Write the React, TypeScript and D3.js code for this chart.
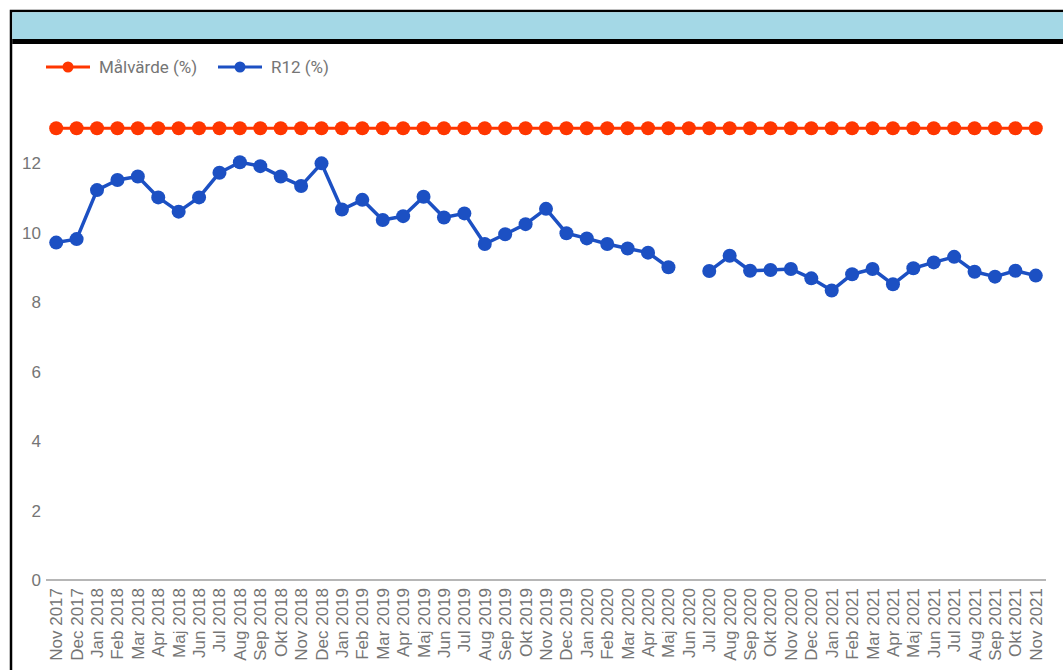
import React from 'react';
import * as d3 from 'd3';

// months shown on the x axis
const months = [
  'Nov 2017', 'Dec 2017', 'Jan 2018', 'Feb 2018', 'Mar 2018', 'Apr 2018', 'Maj 2018', 'Jun 2018',
  'Jul 2018', 'Aug 2018', 'Sep 2018', 'Okt 2018', 'Nov 2018', 'Dec 2018', 'Jan 2019', 'Feb 2019',
  'Mar 2019', 'Apr 2019', 'Maj 2019', 'Jun 2019', 'Jul 2019', 'Aug 2019', 'Sep 2019', 'Okt 2019',
  'Nov 2019', 'Dec 2019', 'Jan 2020', 'Feb 2020', 'Mar 2020', 'Apr 2020', 'Maj 2020', 'Jun 2020',
  'Jul 2020', 'Aug 2020', 'Sep 2020', 'Okt 2020', 'Nov 2020', 'Dec 2020', 'Jan 2021', 'Feb 2021',
  'Mar 2021', 'Apr 2021', 'Maj 2021', 'Jun 2021', 'Jul 2021', 'Aug 2021', 'Sep 2021', 'Okt 2021',
  'Nov 2021',
];

const malvarde = months.map(() => 13);

const r12: (number | null)[] = [
  9.71, 9.81, 11.22, 11.51, 11.61, 11.01, 10.6, 11.01,
  11.72, 12.02, 11.91, 11.61, 11.34, 11.99, 10.66, 10.94,
  10.36, 10.47, 11.03, 10.43, 10.55, 9.67, 9.95, 10.24,
  10.68, 9.98, 9.83, 9.67, 9.54, 9.42, 9.0, null,
  8.89, 9.33, 8.9, 8.92, 8.95, 8.68, 8.33, 8.8,
  8.95, 8.51, 8.97, 9.14, 9.3, 8.87, 8.73, 8.9,
  8.76,
];

const yTicks = [0, 2, 4, 6, 8, 10, 12];

const RED = '#ff3600';
const BLUE = '#1c50c3';
const axisFont = '"Liberation Sans", Arial, sans-serif';
const legendFont = 'Roboto, "Noto Sans", sans-serif';

const W = 1063, H = 670;

export default function App() {
  const x = d3.scaleBand<string>().domain(months).range([46, 1046]);
  const y = d3.scaleLinear().domain([0, 14]).range([580, 93.5]);
  const cx = (i: number) => (x(months[i]) ?? 0) + x.bandwidth() / 2;

  const line = d3.line<number | null>()
    .defined(d => d != null)
    .x((_, i) => cx(i))
    .y(d => y(d as number));

  const series = [
    { name: 'Målvärde (%)', color: RED, values: malvarde as (number | null)[], width: 3, lx: 46 },
    { name: 'R12 (%)', color: BLUE, values: r12, width: 3.5, lx: 218 },
  ];

  return (
    <div style={{ position: 'absolute', left: 0, top: 0 }}>
      <svg width={W} height={H} style={{ display: 'block', background: '#fff' }}>
        {/* frame + header */}
        <rect x={11} y={11} width={W + 10} height={H} fill="none" stroke="#000" strokeWidth={2.5} />
        <rect x={12.25} y={12.25} width={W} height={27} fill="#a4d8e6" />
        <rect x={12.25} y={39} width={W} height={5} fill="#000" />

        {/* legend */}
        {series.map(s => (
          <g key={s.name} transform={`translate(${s.lx},67)`}>
            <line x1={0} x2={44} y1={0} y2={0} stroke={s.color} strokeWidth={3} />
            <circle cx={22} cy={0} r={5.5} fill={s.color} />
            <text x={53} y={6} fontSize={17} fontFamily={legendFont} fill="#757575">{s.name}</text>
          </g>
        ))}

        {/* y ticks */}
        {yTicks.map(t => (
          <text key={t} x={41} y={y(t) + 6} fontSize={17} fontFamily={axisFont} fill="#757575" textAnchor="end">{t}</text>
        ))}

        {/* x axis */}
        <line x1={46} x2={1046} y1={y(0)} y2={y(0)} stroke="#9e9e9e" strokeWidth={1.5} />
        {months.map((m, i) => (
          <text key={m} transform={`translate(${cx(i) + 6},${y(0) + 8}) rotate(-90)`}
            fontSize={17} fontFamily={axisFont} fill="#757575" textAnchor="end">{m}</text>
        ))}

        {/* series */}
        {series.map(s => (
          <g key={s.name}>
            <path d={line(s.values) ?? ''} fill="none" stroke={s.color} strokeWidth={s.width} strokeLinejoin="round" />
            {s.values.map((v, i) => v == null ? null : (
              <circle key={i} cx={cx(i)} cy={y(v)} r={7} fill={s.color} />
            ))}
          </g>
        ))}
      </svg>
    </div>
  );
}
